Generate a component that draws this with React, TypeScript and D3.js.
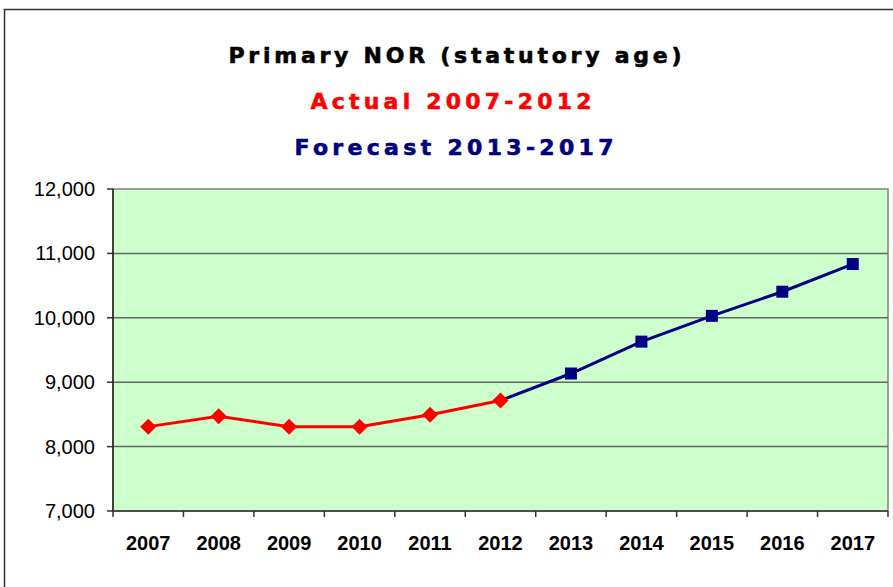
import React from "react";
import * as d3 from "d3";

const years = ["2007","2008","2009","2010","2011","2012","2013","2014","2015","2016","2017"];
const actualYears = ["2007","2008","2009","2010","2011","2012"];
const actualValues = [8310, 8470, 8310, 8310, 8495, 8715];
const forecastYears = ["2012","2013","2014","2015","2016","2017"];
const forecastValues = [8715, 9135, 9630, 10030, 10405, 10835];
const yTicks = [7000, 8000, 9000, 10000, 11000, 12000];

const W = 893, H = 587;
const left = 113, right = 888, top = 189, bottom = 511;

export default function App() {
  const x = d3.scaleBand().domain(years).range([left, right]);
  const y = d3.scaleLinear().domain([7000, 12000]).range([bottom, top]);
  const cx = (yr: string) => (x(yr) as number) + x.bandwidth() / 2;
  const line = d3.line<[string, number]>().x(d => cx(d[0])).y(d => y(d[1]));
  const actual = actualYears.map((yr, i) => [yr, actualValues[i]] as [string, number]);
  const forecast = forecastYears.map((yr, i) => [yr, forecastValues[i]] as [string, number]);
  const fmt = d3.format(",");
  const font = "'Liberation Sans', Arial, sans-serif";
  const tfont = "'DejaVu Sans', sans-serif";
  const bounds = [...years.map(yr => x(yr) as number), right];

  return (
    <svg width={W} height={H} style={{ position: "absolute", left: 0, top: 0, background: "#fff" }}>
      <rect x={4.5} y={9.5} width={W} height={H} fill="#fff" stroke="#333" strokeWidth={1.5} />
      <text x={455} y={63} textAnchor="middle" fontFamily={tfont} fontWeight="bold" fontSize={22} fill="#000" stroke="#000" strokeWidth={0.6} textLength={453} lengthAdjust="spacing">Primary NOR (statutory age)</text>
      <text x={451} y={109} textAnchor="middle" fontFamily={tfont} fontWeight="bold" fontSize={22} fill="#ff0000" stroke="#ff0000" strokeWidth={0.6} textLength={281} lengthAdjust="spacing">Actual 2007-2012</text>
      <text x={454} y={155} textAnchor="middle" fontFamily={tfont} fontWeight="bold" fontSize={22} fill="#000080" stroke="#000080" strokeWidth={0.6} textLength={319} lengthAdjust="spacing">Forecast 2013-2017</text>

      <rect x={left} y={top} width={right - left} height={bottom - top} fill="#ccffcc" stroke="#808080" strokeWidth={1.5} />
      {yTicks.map(t => (
        <g key={t}>
          {t !== 7000 && t !== 12000 && (
            <line x1={left} x2={right} y1={y(t)} y2={y(t)} stroke="#666" strokeWidth={1.5} />
          )}
          <line x1={left - 6} x2={left} y1={y(t)} y2={y(t)} stroke="#333" strokeWidth={1.5} />
          <text x={95} y={y(t)} dy="0.35em" textAnchor="end" fontFamily={font} fontSize={20} fill="#000">{fmt(t)}</text>
        </g>
      ))}
      <line x1={left} x2={left} y1={top} y2={bottom} stroke="#222" strokeWidth={1.5} />
      <line x1={left} x2={right} y1={bottom} y2={bottom} stroke="#333" strokeWidth={1.5} />
      {bounds.map((b, i) => (
        <line key={i} x1={b} x2={b} y1={bottom} y2={bottom + 6} stroke="#333" strokeWidth={1.5} />
      ))}
      {years.map(yr => (
        <text key={yr} x={cx(yr)} y={550} textAnchor="middle" fontFamily={font} fontWeight="bold" fontSize={20} fill="#000">{yr}</text>
      ))}

      <path d={line(forecast) || ""} fill="none" stroke="#000080" strokeWidth={3} />
      {forecast.slice(1).map(d => (
        <rect key={d[0]} x={cx(d[0]) - 6} y={y(d[1]) - 6} width={12} height={12} fill="#000080" />
      ))}
      <path d={line(actual) || ""} fill="none" stroke="#ff0000" strokeWidth={3} />
      {actual.map(d => (
        <path key={d[0]} d={`M${cx(d[0])},${y(d[1]) - 8}L${cx(d[0]) + 8},${y(d[1])}L${cx(d[0])},${y(d[1]) + 8}L${cx(d[0]) - 8},${y(d[1])}Z`} fill="#ff0000" />
      ))}
    </svg>
  );
}
